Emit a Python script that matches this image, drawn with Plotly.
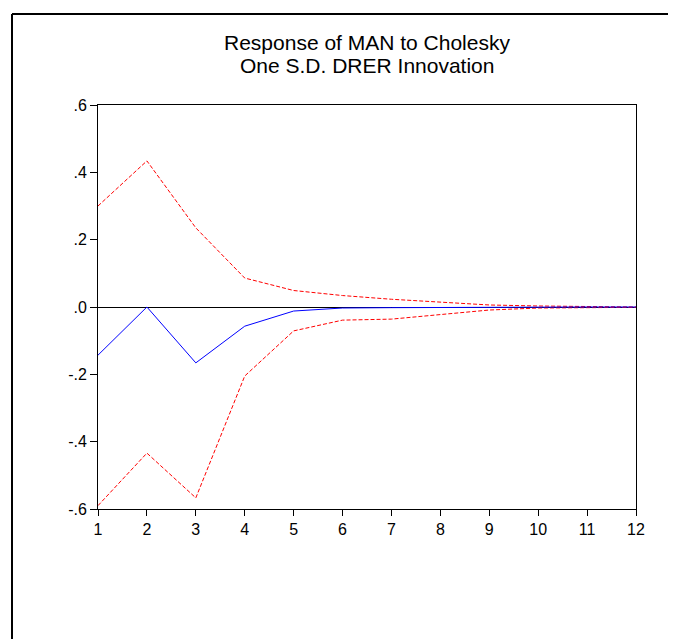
import plotly.graph_objects as go

periods = list(range(1, 13))
response = [-0.143, 0.0, -0.166, -0.057, -0.012, -0.003, -0.002, -0.001, 0.0, 0.0, 0.0, 0.0]
upper_band = [0.300, 0.434, 0.235, 0.086, 0.049, 0.034, 0.023, 0.014, 0.006, 0.003, 0.001, 0.0]
lower_band = [-0.590, -0.434, -0.567, -0.205, -0.071, -0.039, -0.036, -0.022, -0.009, -0.003, -0.001, -0.001]

y_tickvals = [0.6, 0.4, 0.2, 0.0, -0.2, -0.4, -0.6]
y_ticktext = [".6", ".4", ".2", ".0", "-.2", "-.4", "-.6"]
x_ticktext = [str(p) for p in periods]

title_lines = ["Response of MAN to Cholesky", "One S.D. DRER Innovation"]

FONT = "Liberation Sans, Arial, sans-serif"

# page is rendered with an 8px body margin; plot area on page: x 98..636, y 105..509
PX0, PX1, PY0, PY1 = 98, 636, 105, 509


def px(x):
    return (x - PX0) / (PX1 - PX0)


def py(y):
    return (PY1 - y) / (PY1 - PY0)


fig = go.Figure()
fig.add_trace(go.Scatter(x=periods, y=upper_band, mode="lines",
                         line=dict(color="#ff0000", width=1, dash="4px,2px"),
                         showlegend=False, hoverinfo="skip"))
fig.add_trace(go.Scatter(x=periods, y=lower_band, mode="lines",
                         line=dict(color="#ff0000", width=1, dash="4px,2px"),
                         showlegend=False, hoverinfo="skip"))
fig.add_trace(go.Scatter(x=periods, y=response, mode="lines",
                         line=dict(color="#0000ff", width=1),
                         showlegend=False))

fig.update_layout(
    width=668, height=631,
    margin=dict(l=PX0 - 8, r=668 - (PX1 - 8), t=PY0 - 8, b=631 - (PY1 - 8)),
    paper_bgcolor="white", plot_bgcolor="white",
    font=dict(family=FONT, color="black", size=16),
    showlegend=False,
)
fig.update_xaxes(
    range=[1, 12], tickvals=periods, ticktext=x_ticktext,
    showgrid=False, zeroline=False,
    showline=True, linecolor="black", linewidth=1, mirror=True,
    ticks="outside", ticklen=6, tickcolor="black", tickwidth=1,
    tickfont=dict(size=16, family=FONT),
)
fig.update_yaxes(
    range=[-0.6, 0.6], tickvals=y_tickvals, ticktext=y_ticktext,
    showgrid=False, zeroline=True, zerolinecolor="black", zerolinewidth=1,
    showline=True, linecolor="black", linewidth=1, mirror=True,
    ticks="outside", ticklen=7, tickcolor="black", tickwidth=1,
    tickfont=dict(size=16, family=FONT),
)

for line_text, ypage in zip(title_lines, [42, 66]):
    fig.add_annotation(text=line_text, xref="paper", yref="paper",
                       x=px(367), y=py(ypage), xanchor="center", yanchor="middle",
                       showarrow=False,
                       font=dict(size=21, family=FONT, color="black"))

# outer frame (left and top edges)
fig.add_shape(type="line", xref="paper", yref="paper",
              x0=px(12), x1=px(700), y0=py(14), y1=py(14),
              line=dict(color="black", width=2))
fig.add_shape(type="line", xref="paper", yref="paper",
              x0=px(12), x1=px(12), y0=py(14), y1=py(660),
              line=dict(color="black", width=2))

fig.write_html("out.html")
